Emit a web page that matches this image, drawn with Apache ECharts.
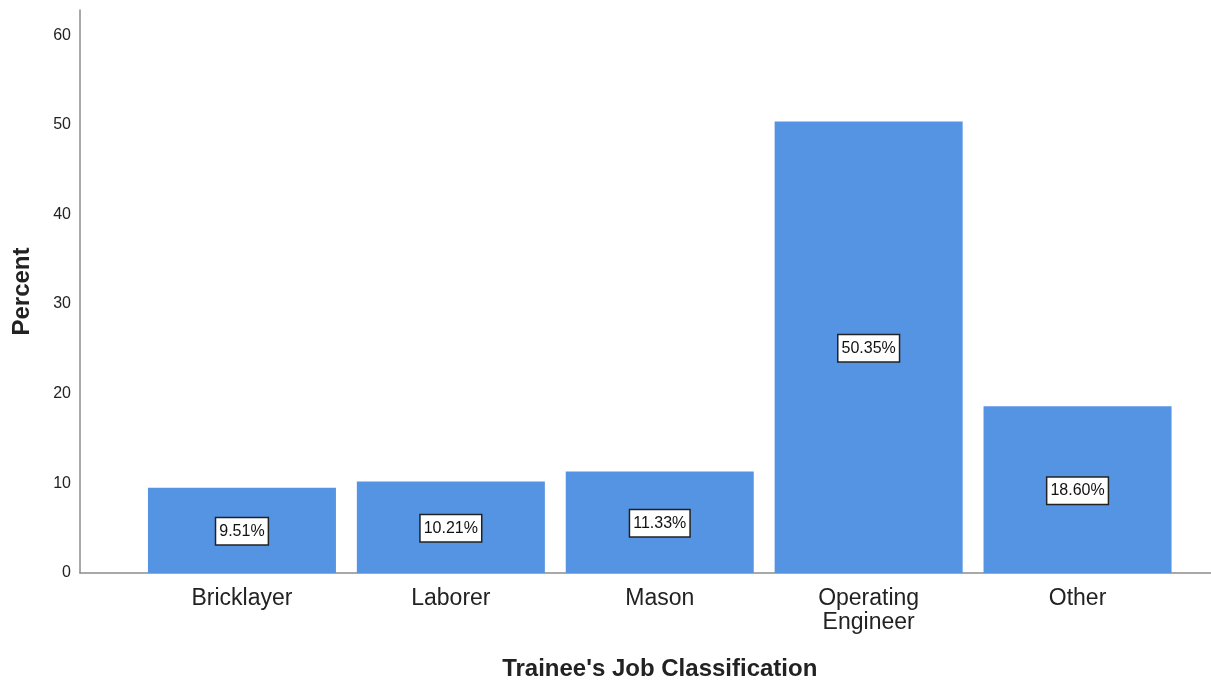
<!DOCTYPE html>
<html>
<head>
<meta charset="utf-8">
<script src="https://cdn.jsdelivr.net/npm/echarts@6/dist/echarts.min.js"></script>
<style>
  html, body { margin: 0; padding: 0; background: #fff; }
  #chart { width: 1211px; height: 681px; }
</style>
</head>
<body>
<div id="chart"></div>
<script>
// job classes and their share of trainees
var categories = ['Bricklayer', 'Laborer', 'Mason', 'Operating\nEngineer', 'Other'];
var percents = [9.51, 10.21, 11.33, 50.35, 18.60];
var yTicks = [0, 10, 20, 30, 40, 50, 60];

var textColor = '#222';
var axisColor = '#8c8c8c';

var chart = echarts.init(document.getElementById('chart'));

chart.setOption({
    animation: false,
    textStyle: { fontFamily: 'Liberation Sans, Arial, sans-serif' },
    grid: [
        // frame grid: carries the axis lines and y labels
        { left: 80, right: 0, top: 10, bottom: 108, outerBoundsMode: 'none' },
        // bar grid: categories start a bit to the right of the y axis
        { left: 137.5, right: 29, top: 10, bottom: 108, outerBoundsMode: 'none' }
    ],
    xAxis: [
        {
            gridIndex: 0, type: 'value', min: 0, max: 1,
            axisLine: { show: true, onZero: false, lineStyle: { color: axisColor, width: 1.5 } },
            axisTick: { show: false }, axisLabel: { show: false }, splitLine: { show: false }
        },
        {
            gridIndex: 1, type: 'category', data: categories,
            axisLine: { show: false }, axisTick: { show: false },
            axisLabel: { fontSize: 23, color: textColor, margin: 14, lineHeight: 24, interval: 0 },
            name: "Trainee's Job Classification",
            nameLocation: 'middle', nameGap: 84,
            nameTextStyle: { fontSize: 24, fontWeight: 'bold', color: textColor }
        }
    ],
    yAxis: [
        {
            gridIndex: 0, type: 'value', min: 0, max: 62.8, interval: 10,
            axisLine: { show: true, lineStyle: { color: axisColor, width: 1.5 } },
            axisTick: { show: false }, splitLine: { show: false },
            axisLabel: {
                fontSize: 16, color: textColor, margin: 9,
                formatter: function (v) { return yTicks.indexOf(v) >= 0 ? String(v) : ''; }
            },
            name: 'Percent', nameLocation: 'middle', nameGap: 46,
            nameTextStyle: { fontSize: 24, fontWeight: 'bold', color: textColor }
        },
        {
            gridIndex: 1, type: 'value', min: 0, max: 62.8,
            axisLine: { show: false }, axisTick: { show: false },
            axisLabel: { show: false }, splitLine: { show: false }
        }
    ],
    series: [{
        type: 'bar',
        xAxisIndex: 1, yAxisIndex: 1,
        data: percents,
        barCategoryGap: '10%',
        itemStyle: { color: '#5594e3' },
        label: {
            show: true, position: 'inside', offset: [0, 1],
            formatter: function (p) { return p.value.toFixed(2) + '%'; },
            fontSize: 16, lineHeight: 21, color: '#111',
            backgroundColor: '#fff', borderColor: '#222', borderWidth: 1.5,
            padding: [3, 3, 2, 3]
        }
    }]
});
</script>
</body>
</html>
